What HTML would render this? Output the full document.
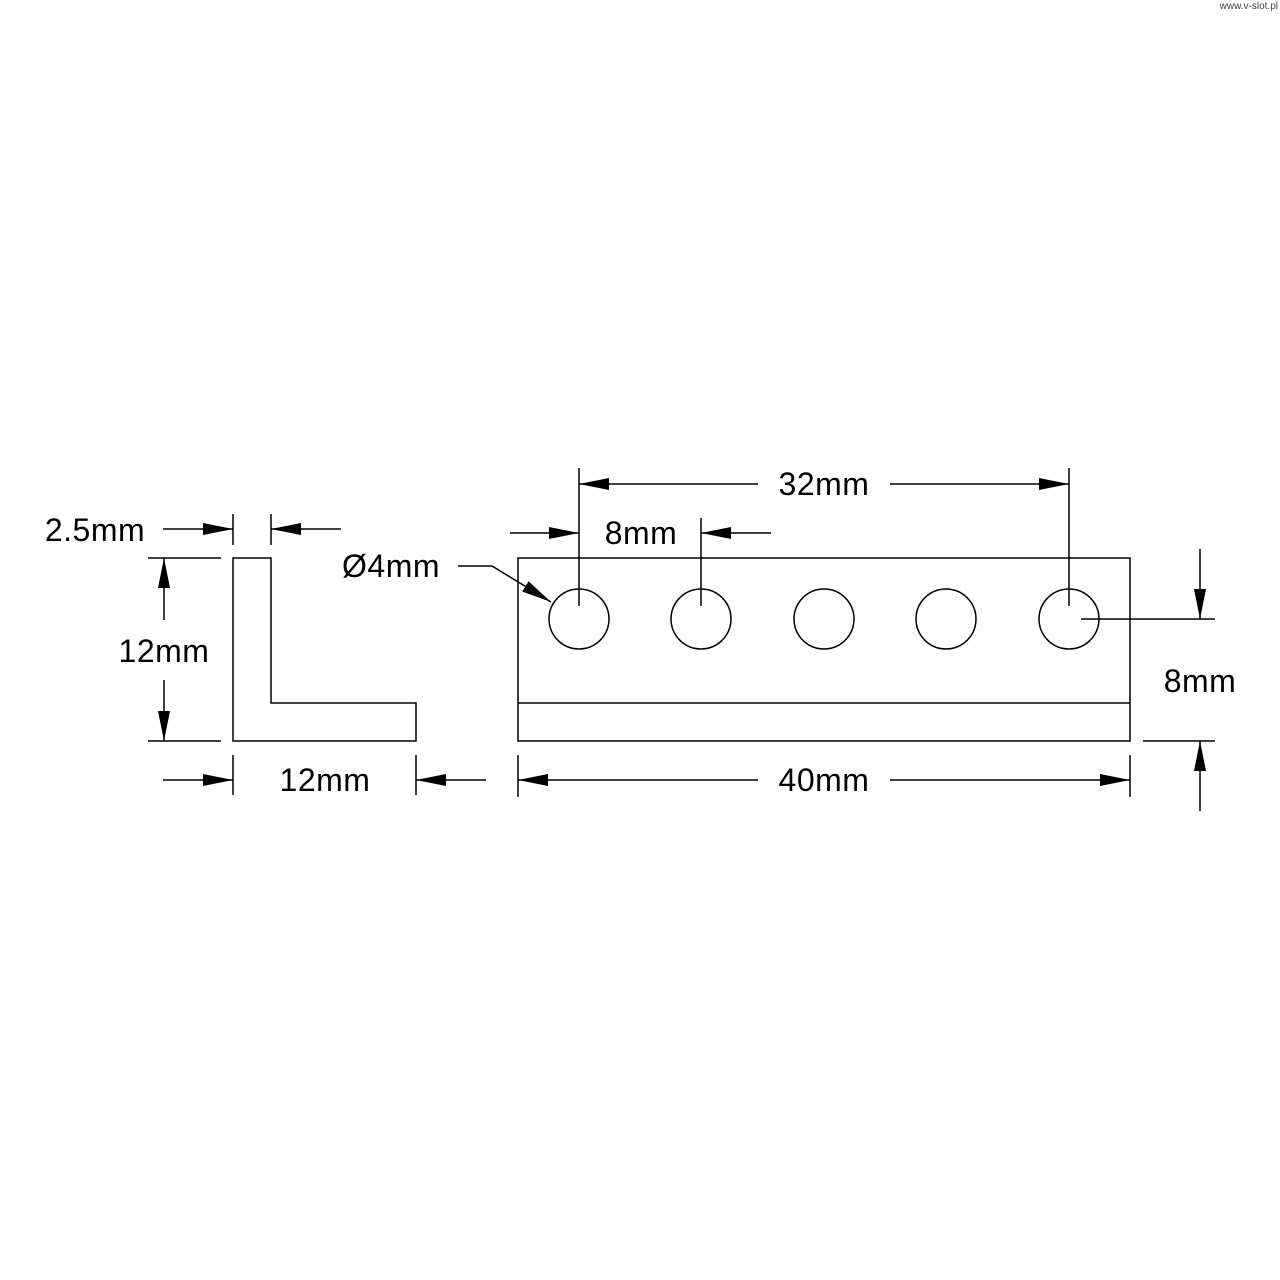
<!DOCTYPE html>
<html><head><meta charset="utf-8"><style>
html,body{margin:0;padding:0;background:#fff;}
svg{display:block}
text{font-family:"Liberation Sans",sans-serif;font-size:32px;fill:#000;letter-spacing:0.5px}
</style></head><body>
<svg width="1280" height="1280" viewBox="0 0 1280 1280" xmlns="http://www.w3.org/2000/svg">
<defs>
<marker id="a" viewBox="0 0 30 12" refX="30" refY="6" markerWidth="30" markerHeight="12" markerUnits="userSpaceOnUse" orient="auto"><path d="M0,0 L30,6 L0,12 Z" fill="#000"/></marker>
</defs>
<g stroke="#000" stroke-width="1.5" fill="none">
<path d="M233,558 H271 V703 H416 V741 H233 Z"/>
<line x1="233" y1="514" x2="233" y2="545"/>
<line x1="271" y1="514" x2="271" y2="545"/>
<line x1="163" y1="529" x2="233" y2="529" marker-end="url(#a)"/>
<line x1="341" y1="529" x2="271" y2="529" marker-end="url(#a)"/>
<line x1="148" y1="558" x2="221" y2="558"/>
<line x1="148" y1="741" x2="221" y2="741"/>
<line x1="164" y1="620" x2="164" y2="558" marker-end="url(#a)"/>
<line x1="164" y1="680" x2="164" y2="741" marker-end="url(#a)"/>
<line x1="233" y1="755" x2="233" y2="795"/>
<line x1="416" y1="755" x2="416" y2="795"/>
<line x1="163" y1="780" x2="233" y2="780" marker-end="url(#a)"/>
<line x1="486" y1="780" x2="416" y2="780" marker-end="url(#a)"/>
<rect x="518" y="558" width="612" height="183"/>
<line x1="518" y1="703" x2="1130" y2="703"/>
<circle cx="579" cy="619" r="30"/>
<circle cx="701" cy="619" r="30"/>
<circle cx="824" cy="619" r="30"/>
<circle cx="946" cy="619" r="30"/>
<circle cx="1069" cy="619" r="30"/>
<line x1="579" y1="468" x2="579" y2="606"/>
<line x1="1069" y1="468" x2="1069" y2="606"/>
<line x1="758" y1="484" x2="579" y2="484" marker-end="url(#a)"/>
<line x1="890" y1="484" x2="1069" y2="484" marker-end="url(#a)"/>
<line x1="701" y1="518" x2="701" y2="606"/>
<line x1="510" y1="533" x2="579" y2="533" marker-end="url(#a)"/>
<line x1="771" y1="533" x2="701" y2="533" marker-end="url(#a)"/>
<path d="M458,566 H492 L551,602" marker-end="url(#a)"/>
<line x1="1081" y1="619" x2="1215" y2="619"/>
<line x1="1143" y1="741" x2="1215" y2="741"/>
<line x1="1200" y1="549" x2="1200" y2="619" marker-end="url(#a)"/>
<line x1="1200" y1="811" x2="1200" y2="741" marker-end="url(#a)"/>
<line x1="518" y1="755" x2="518" y2="797"/>
<line x1="1130" y1="755" x2="1130" y2="797"/>
<line x1="758" y1="780" x2="518" y2="780" marker-end="url(#a)"/>
<line x1="890" y1="780" x2="1130" y2="780" marker-end="url(#a)"/>
</g>
<text x="95" y="541" text-anchor="middle">2.5mm</text>
<text x="164" y="662" text-anchor="middle">12mm</text>
<text x="325" y="791" text-anchor="middle">12mm</text>
<text x="824" y="495" text-anchor="middle">32mm</text>
<text x="641" y="544" text-anchor="middle">8mm</text>
<text x="391" y="577" text-anchor="middle">Ø4mm</text>
<text x="1200" y="692" text-anchor="middle">8mm</text>
<text x="824" y="791" text-anchor="middle">40mm</text>
<text x="1278" y="9" text-anchor="end" style="font-size:10px;fill:#444;letter-spacing:0">www.v-slot.pl</text>
</svg>
</body></html>
